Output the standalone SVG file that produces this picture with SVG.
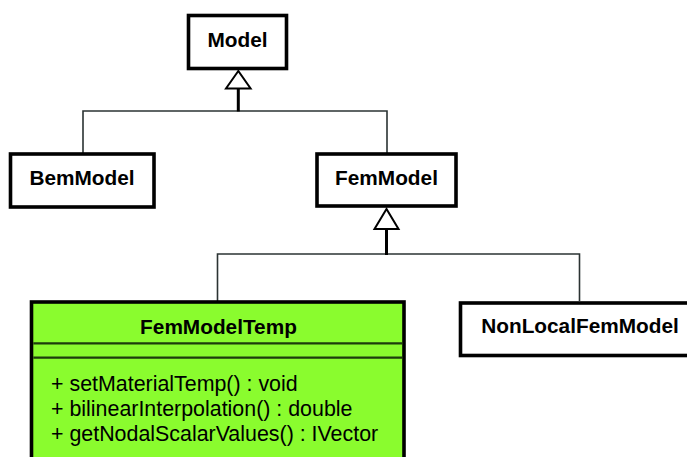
<svg xmlns="http://www.w3.org/2000/svg" width="687" height="457" viewBox="0 0 687 457">
  <style>
    .box { fill: #ffffff; stroke: #000000; stroke-width: 3.6; }
    .cls { fill: #8afc2e; stroke: #000000; stroke-width: 3.6; }
    .sep { stroke: #1d3d0c; stroke-width: 2.2; }
    .name { font-family: "Liberation Sans", Arial, sans-serif; font-weight: bold; font-size: 20.8px; fill: #000000; text-anchor: middle; }
    .op { font-family: "Liberation Sans", Arial, sans-serif; font-size: 21.4px; fill: #000000; }
    .link { fill: none; stroke: #2b3333; stroke-width: 1.6; }
    .stem { fill: none; stroke: #000000; stroke-width: 3; }
    .gen { fill: #ffffff; stroke: #000000; stroke-width: 2; stroke-linejoin: miter; }
  </style>

  <g id="connectors">
    <!-- Model <- BemModel / FemModel -->
    <polyline class="link" points="83,153 83,111 387,111 387,153"/>
    <line class="stem" x1="238.3" y1="88" x2="238.3" y2="111.5"/>
    <polygon class="gen" points="238.3,71 226,88.5 250.6,88.5"/>
    <!-- FemModel <- FemModelTemp / NonLocalFemModel -->
    <polyline class="link" points="217.5,301 217.5,254 579.5,254 579.5,301"/>
    <line class="stem" x1="386.5" y1="229" x2="386.5" y2="255"/>
    <polygon class="gen" points="386.5,209 374.5,229 398.5,229"/>
  </g>

  <g id="Model">
    <rect class="box" x="188.5" y="15.5" width="98" height="53"/>
    <text class="name" x="237.5" y="47">Model</text>
  </g>

  <g id="BemModel">
    <rect class="box" x="10.5" y="154" width="143.5" height="53"/>
    <text class="name" x="82" y="185">BemModel</text>
  </g>

  <g id="FemModel">
    <rect class="box" x="317" y="154" width="139" height="52"/>
    <text class="name" x="386.5" y="184.5">FemModel</text>
  </g>

  <g id="FemModelTemp">
    <rect class="cls" x="31.5" y="302" width="372.5" height="170"/>
    <line class="sep" x1="33.3" y1="343.4" x2="402.2" y2="343.4"/>
    <line class="sep" x1="33.3" y1="357.7" x2="402.2" y2="357.7"/>
    <text class="name" x="218.5" y="333.5">FemModelTemp</text>
    <text class="op" x="51" y="391">+ setMaterialTemp() : void</text>
    <text class="op" x="51" y="416">+ bilinearInterpolation() : double</text>
    <text class="op" x="51" y="441">+ getNodalScalarValues() : IVector</text>
  </g>

  <g id="NonLocalFemModel">
    <rect class="box" x="460.5" y="303" width="240" height="52.5"/>
    <text class="name" x="580" y="333">NonLocalFemModel</text>
  </g>
</svg>
